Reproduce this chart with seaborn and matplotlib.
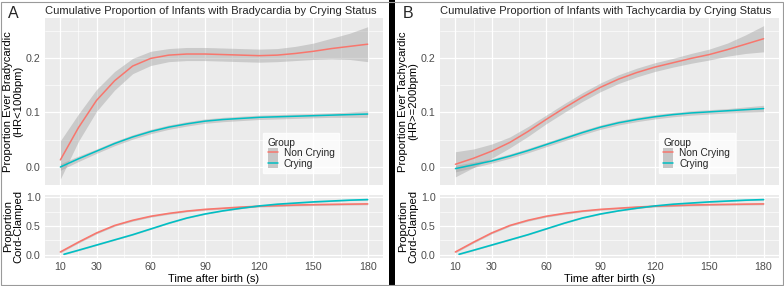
import numpy as np
import pandas as pd
import matplotlib
matplotlib.use("Agg")
import matplotlib.pyplot as plt
import seaborn as sns
from matplotlib.patches import Patch, Rectangle
from matplotlib.lines import Line2D
from matplotlib.legend_handler import HandlerTuple

# --- data (time after birth, seconds) ---
time_s = [10, 20, 30, 40, 50, 60, 70, 80, 90, 100, 110, 120, 130, 140, 150, 160, 170, 180]

brady_noncry = [0.013, 0.072, 0.122, 0.158, 0.185, 0.199, 0.205, 0.207, 0.207, 0.206, 0.205, 0.204, 0.205, 0.208, 0.212, 0.217, 0.221, 0.225]
brady_noncry_se = [0.035, 0.025, 0.020, 0.017, 0.014, 0.013, 0.012, 0.012, 0.012, 0.012, 0.012, 0.012, 0.012, 0.013, 0.015, 0.019, 0.024, 0.032]
brady_cry = [0.000, 0.015, 0.029, 0.043, 0.055, 0.065, 0.073, 0.079, 0.084, 0.087, 0.089, 0.091, 0.092, 0.093, 0.094, 0.095, 0.096, 0.097]
brady_cry_se = [0.006, 0.005, 0.004, 0.004, 0.004, 0.004, 0.004, 0.004, 0.004, 0.004, 0.004, 0.004, 0.004, 0.004, 0.004, 0.004, 0.005, 0.006]

tachy_noncry = [0.005, 0.016, 0.029, 0.045, 0.065, 0.087, 0.108, 0.128, 0.146, 0.161, 0.173, 0.183, 0.191, 0.199, 0.206, 0.215, 0.225, 0.235]
tachy_noncry_se = [0.023, 0.017, 0.013, 0.010, 0.009, 0.008, 0.008, 0.008, 0.008, 0.008, 0.008, 0.008, 0.008, 0.009, 0.010, 0.012, 0.017, 0.024]
tachy_cry = [-0.003, 0.004, 0.011, 0.020, 0.030, 0.041, 0.052, 0.063, 0.073, 0.081, 0.087, 0.092, 0.096, 0.099, 0.101, 0.103, 0.105, 0.107]
tachy_cry_se = [0.006, 0.005, 0.004, 0.004, 0.004, 0.004, 0.004, 0.004, 0.004, 0.004, 0.004, 0.004, 0.004, 0.004, 0.004, 0.004, 0.005, 0.006]

clamp_time_cry = [12, 20, 30, 40, 50, 60, 70, 80, 90, 100, 110, 120, 130, 140, 150, 160, 170, 180]
clamp_noncry = [0.05, 0.22, 0.38, 0.51, 0.60, 0.67, 0.72, 0.76, 0.79, 0.81, 0.83, 0.845, 0.855, 0.865, 0.872, 0.877, 0.881, 0.885]
clamp_cry = [0.01, 0.08, 0.17, 0.26, 0.35, 0.45, 0.55, 0.64, 0.71, 0.765, 0.81, 0.85, 0.88, 0.90, 0.92, 0.935, 0.95, 0.96]
clamp_se = 0.015

groups = ["Non Crying", "Crying"]
colors = {"Non Crying": "#F8766D", "Crying": "#00BFC4"}
x_ticks = [10, 30, 60, 90, 120, 150, 180]
x_minor = [20, 45, 75, 105, 135, 165]

sns.set_theme(style="darkgrid", rc={
    "axes.facecolor": "#EBEBEB",
    "grid.color": "white",
    "axes.edgecolor": "#EBEBEB",
})
plt.rcParams["font.family"] = ["Liberation Sans", "DejaVu Sans"]

W, H = 784, 286
fig = plt.figure(figsize=(W / 100, H / 100), dpi=100)


def px_axes(left, right, top, bottom):
    return fig.add_axes([left / W, 1 - bottom / H, (right - left) / W, (bottom - top) / H])


def style_axes(ax, ylim, yticks, yminor):
    ax.set_xlim(1.5, 188.5)
    ax.set_ylim(*ylim)
    ax.set_xticks(x_ticks)
    ax.set_xticks(x_minor, minor=True)
    ax.set_yticks(yticks)
    ax.set_yticks(yminor, minor=True)
    ax.grid(which="major", color="white", lw=0.9)
    ax.grid(which="minor", color="white", lw=0.45)
    ax.tick_params(which="major", length=2.0, width=0.6, color="#333333",
                   labelsize=7.7, labelcolor="#4D4D4D", pad=1.0)
    ax.tick_params(which="minor", length=0)
    for s in ax.spines.values():
        s.set_visible(False)


def draw_panel(left, right, letter, title, ylab, noncry, noncry_se, cry, cry_se):
    top = px_axes(left, right, 18, 185)
    bot = px_axes(left, right, 195, 258)

    t = np.array(time_s)
    for vals, se, g in [(noncry, noncry_se, "Non Crying"), (cry, cry_se, "Crying")]:
        v = np.array(vals)
        s = np.array(se)
        top.fill_between(t, v - s, v + s, color="#999999", alpha=0.4, lw=0, zorder=2)
        sns.lineplot(x=t, y=v, color=colors[g], lw=1.1, ax=top, zorder=3)

    style_axes(top, (-0.033, 0.273), [0.0, 0.1, 0.2], [0.05, 0.15, 0.25])
    top.set_xticklabels([])
    top.set_yticklabels(["0.0", "0.1", "0.2"])
    top.set_ylabel(ylab, fontsize=8.1, color="black", linespacing=1.0, labelpad=2)
    top.set_title(title, fontsize=8.0, loc="left", pad=3)

    cn = np.array(clamp_noncry)
    bot.fill_between(t, cn - clamp_se, cn + clamp_se, color="#999999", alpha=0.4, lw=0, zorder=2)
    sns.lineplot(x=t, y=cn, color=colors["Non Crying"], lw=1.2, ax=bot, zorder=3)
    cc = np.array(clamp_cry)
    tc = np.array(clamp_time_cry)
    bot.fill_between(tc, cc - 0.008, cc + 0.008, color="#999999", alpha=0.4, lw=0, zorder=2)
    sns.lineplot(x=tc, y=cc, color=colors["Crying"], lw=1.2, ax=bot, zorder=3)
    style_axes(bot, (-0.055, 1.04), [0.0, 0.5, 1.0], [0.25, 0.75])
    bot.set_yticklabels(["0.0", "0.5", "1.0"])
    bot.set_xticklabels([str(v) for v in x_ticks])
    bot.set_ylabel("Proportion\nCord-Clamped", fontsize=8.1, color="black", linespacing=1.0, labelpad=2)
    bot.set_xlabel("Time after birth (s)", fontsize=8.0, color="black", labelpad=1)

    handles = [(Patch(facecolor="#C6C6C6", edgecolor="none"),
                Line2D([], [], color=colors[g], lw=1.1)) for g in groups]
    leg = top.legend(handles, groups, title="Group", loc="lower left",
                     bbox_to_anchor=(0.645, 0.07), frameon=True, fontsize=7.3,
                     title_fontsize=7.3, handler_map={tuple: HandlerTuple(ndivide=1, pad=0)},
                     handlelength=1.0, handleheight=1.15, handletextpad=0.6,
                     borderpad=0.45, labelspacing=0.0, borderaxespad=0, fancybox=False)
    leg.get_frame().set_facecolor("white")
    leg.get_frame().set_edgecolor("white")
    leg._legend_box.align = "left"

    fig.text((left - 37) / W, 1 - 13 / H, letter, fontsize=11.5, va="center", ha="left")
    return top, bot


draw_panel(45, 383, "A", "Cumulative Proportion of Infants with Bradycardia by Crying Status",
           "Proportion Ever Bradycardic\n(HR<100bpm)",
           brady_noncry, brady_noncry_se, brady_cry, brady_cry_se)
draw_panel(440, 779, "B", "Cumulative Proportion of Infants with Tachycardia by Crying Status",
           "Proportion Ever Tachycardic\n(HR>=200bpm)",
           tachy_noncry, tachy_noncry_se, tachy_cry, tachy_cry_se)

# black divider between the two panels and a thin frame around the figure
fig.patches.append(Rectangle((389 / W, 0), 6 / W, 1, transform=fig.transFigure,
                             facecolor="black", edgecolor="none", zorder=5))
fig.patches.append(Rectangle((0.5 / W, 1.5 / H), (W - 1.5) / W, (H - 3) / H, transform=fig.transFigure,
                             facecolor="none", edgecolor="#9A9A9A", lw=0.8, zorder=5))

fig.savefig("out.png", dpi=100)
